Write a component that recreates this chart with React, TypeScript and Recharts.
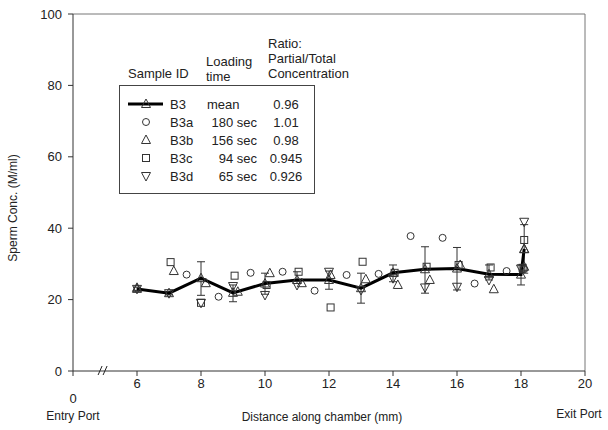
import React from 'react';
import {
  ComposedChart,
  Line,
  Scatter,
  XAxis,
  YAxis,
  ErrorBar,
  ReferenceLine,
  ReferenceDot,
  Legend,
} from 'recharts';

const FONT = '"Liberation Sans", Arial, sans-serif';
const INK = '#222';

// mean of B3 (line with triangles) and its error bars [below, above]
const meanX = [6, 7, 8, 9, 10, 11, 12, 13, 14, 15, 16, 17, 18, 18.1];
const meanY = [23, 21.8, 26, 21.9, 24.5, 25.5, 25.5, 23.2, 27.5, 28.5, 28.7, 27.1, 27.0, 34.2];
const meanErr = [
  [0.5, 0.5], [0.5, 0.5], [4.8, 4.6], [2.5, 2.2], [3, 2.9], [1, 2.3], [2.6, 2.5],
  [4.2, 4.2], [2.5, 2.2], [6.7, 6.3], [6, 5.9], [1.6, 2.6], [2.9, 2.7], [6.8, 6.8],
];

// B3a, circles
const aX = [7.55, 8.55, 9.55, 10.55, 11.55, 12.55, 13.55, 14.55, 15.55, 16.55, 17.55, 18.1];
const aY = [27, 20.8, 27.5, 27.8, 22.5, 26.9, 27.2, 37.8, 37.3, 24.5, 28, 28.5];

// B3b, triangles up
const bX = [6, 7.15, 8.15, 9.15, 10.15, 11.15, 12.05, 13.15, 14.15, 15.15, 16.1, 17.15, 18.1, 18.1];
const bY = [23.3, 28, 24.6, 22.2, 27.4, 24.6, 26.9, 25.7, 24.1, 25.5, 29.7, 22.9, 29.2, 34.1];

// B3c, squares
const cX = [7.05, 8, 9.05, 10.05, 11.05, 12.05, 13.05, 14.05, 15.05, 16.05, 17.05, 18.05, 18.1];
const cY = [30.5, 19.1, 26.7, 24.1, 27.8, 17.8, 30.6, 27.5, 29.2, 29.7, 29, 28.9, 36.7];

// B3d, triangles down
const dX = [6, 7, 8, 9, 10, 11, 12, 13, 14, 15, 16, 17, 18, 18.1];
const dY = [23, 21.8, 19.1, 23.8, 21.3, 24.1, 27.8, 22.7, 26, 23.4, 23.6, 25.5, 28.7, 41.8];

const xTicks = [4, 6, 8, 10, 12, 14, 16, 18, 20];
const yTicks = [0, 20, 40, 60, 80, 100];

const legendIds = ['B3', 'B3a', 'B3b', 'B3c', 'B3d'];
const legendTimes = ['mean', '180 sec', '156 sec', '94 sec', '65 sec'];
const legendRatios = ['0.96', '1.01', '0.98', '0.945', '0.926'];

const zip = (xs: number[], ys: number[]) => xs.map((x, i) => ({ x, y: ys[i] }));
const meanData = meanX.map((x, i) => ({ x, y: meanY[i], err: meanErr[i] }));

const mk = { fill: 'none', stroke: '#333', strokeWidth: 1 };

const Circle = (p: any) => <circle cx={p.cx} cy={p.cy} r={3.5} {...mk} />;
const Square = (p: any) => <rect x={p.cx - 3.5} y={p.cy - 3.5} width={7} height={7} {...mk} />;
const TriUp = (p: any) => (
  <polygon points={`${p.cx},${p.cy - 5} ${p.cx - 4.5},${p.cy + 3.5} ${p.cx + 4.5},${p.cy + 3.5}`} {...mk} />
);
const TriDown = (p: any) => (
  <polygon points={`${p.cx - 4.5},${p.cy - 3.5} ${p.cx + 4.5},${p.cy - 3.5} ${p.cx},${p.cy + 5}`} {...mk} />
);

const shapes = [TriUp, Circle, TriUp, Square, TriDown];

function XTick(props: any) {
  const { x, y, payload } = props;
  const t = { fontFamily: FONT, fontSize: 13, fill: INK, textAnchor: 'middle' as const };
  if (payload.value === 4) {
    return (
      <g>
        <text x={x} y={y + 25} {...t}>0</text>
        <text x={x} y={y + 42} {...t} fontSize={12}>Entry Port</text>
      </g>
    );
  }
  if (payload.value === 20) {
    return (
      <g>
        <text x={x} y={y + 10} {...t}>20</text>
        <text x={x - 6} y={y + 40} {...t} fontSize={12}>Exit Port</text>
      </g>
    );
  }
  return <text x={x} y={y + 10} {...t}>{payload.value}</text>;
}

function AxisBreak(p: any) {
  const { cx, cy } = p;
  return (
    <g stroke="#222" strokeWidth={1}>
      <line x1={cx - 5} y1={cy + 4} x2={cx - 1} y2={cy - 5} />
      <line x1={cx} y1={cy + 4} x2={cx + 4} y2={cy - 5} />
    </g>
  );
}

function LegendTable() {
  const t = { fontFamily: FONT, fontSize: 13, fill: INK };
  return (
    <svg width={400} height={200} style={{ display: 'block', overflow: 'visible' }}>
      <text x={128} y={78} {...t}>Sample ID</text>
      <text x={206} y={66} {...t}>Loading</text>
      <text x={206} y={81} {...t}>time</text>
      <text x={268} y={48} {...t}>Ratio:</text>
      <text x={268} y={63} {...t}>Partial/Total</text>
      <text x={268} y={78} {...t}>Concentration</text>
      <rect x={119.5} y={85.5} width={195} height={108} fill="none" stroke="#444" strokeWidth={1} />
      {legendIds.map((id, i) => {
        const cy = 104 + i * 18;
        const Shape = shapes[i];
        return (
          <g key={id}>
            {i === 0 && <line x1={128} y1={cy} x2={163} y2={cy} stroke="#000" strokeWidth={3} />}
            <Shape cx={146} cy={cy} />
            <text x={170} y={cy + 5} {...t}>{id}</text>
            {legendTimes[i] === 'mean' ? (
              <text x={207} y={cy + 5} {...t}>{legendTimes[i]}</text>
            ) : (
              <text x={257} y={cy + 5} {...t} textAnchor="end">{legendTimes[i]}</text>
            )}
            <text x={286} y={cy + 5} {...t} textAnchor="middle">{legendRatios[i]}</text>
          </g>
        );
      })}
    </svg>
  );
}

export default function App() {
  return (
    <div style={{ position: 'absolute', left: 0, top: 0, background: '#fff' }}>
      <ComposedChart width={608} height={430} margin={{ top: 14, right: 23, bottom: 9, left: 28 }}>
        <XAxis
          dataKey="x"
          type="number"
          domain={[4, 20]}
          ticks={xTicks}
          allowDataOverflow
          tickSize={5}
          stroke="#333"
          height={50}
          tick={<XTick />}
          label={{
            value: 'Distance along chamber (mm)',
            position: 'insideBottom',
            offset: 0,
            dx: -7,
            style: { fontFamily: FONT, fontSize: 12, fill: INK },
          }}
        />
        <YAxis
          dataKey="y"
          type="number"
          domain={[0, 100]}
          ticks={yTicks}
          allowDataOverflow
          tickSize={5}
          tickMargin={6}
          width={45}
          stroke="#333"
          tick={{ fontFamily: FONT, fontSize: 13, fill: INK }}
          label={{
            content: () => (
              <text
                x={17}
                y={208}
                transform="rotate(-90 17 208)"
                textAnchor="middle"
                style={{ fontFamily: FONT, fontSize: 12, fill: INK }}
              >
                Sperm Conc. (M/ml)
              </text>
            ),
          }}
        />
        <ReferenceLine y={100} stroke="#777" />
        <ReferenceLine x={20} stroke="#777" />
        <ReferenceDot x={4.94} y={0} r={0} ifOverflow="visible" shape={<AxisBreak />} />

        <Scatter name="B3a" data={zip(aX, aY)} dataKey="y" shape={<Circle />} isAnimationActive={false} />
        <Scatter name="B3b" data={zip(bX, bY)} dataKey="y" shape={<TriUp />} isAnimationActive={false} />
        <Scatter name="B3c" data={zip(cX, cY)} dataKey="y" shape={<Square />} isAnimationActive={false} />
        <Scatter name="B3d" data={zip(dX, dY)} dataKey="y" shape={<TriDown />} isAnimationActive={false} />
        <Line
          name="B3"
          data={meanData}
          dataKey="y"
          type="linear"
          stroke="#000"
          strokeWidth={3}
          dot={<TriUp />}
          activeDot={false}
          isAnimationActive={false}
        >
          <ErrorBar dataKey="err" direction="y" width={4} stroke="#333" strokeWidth={1} />
        </Line>

        <Legend
          layout="horizontal"
          verticalAlign="middle"
          align="center"
          content={() => <LegendTable />}
          wrapperStyle={{ left: 0, top: 0, width: 400, height: 200 }}
        />
      </ComposedChart>
    </div>
  );
}
